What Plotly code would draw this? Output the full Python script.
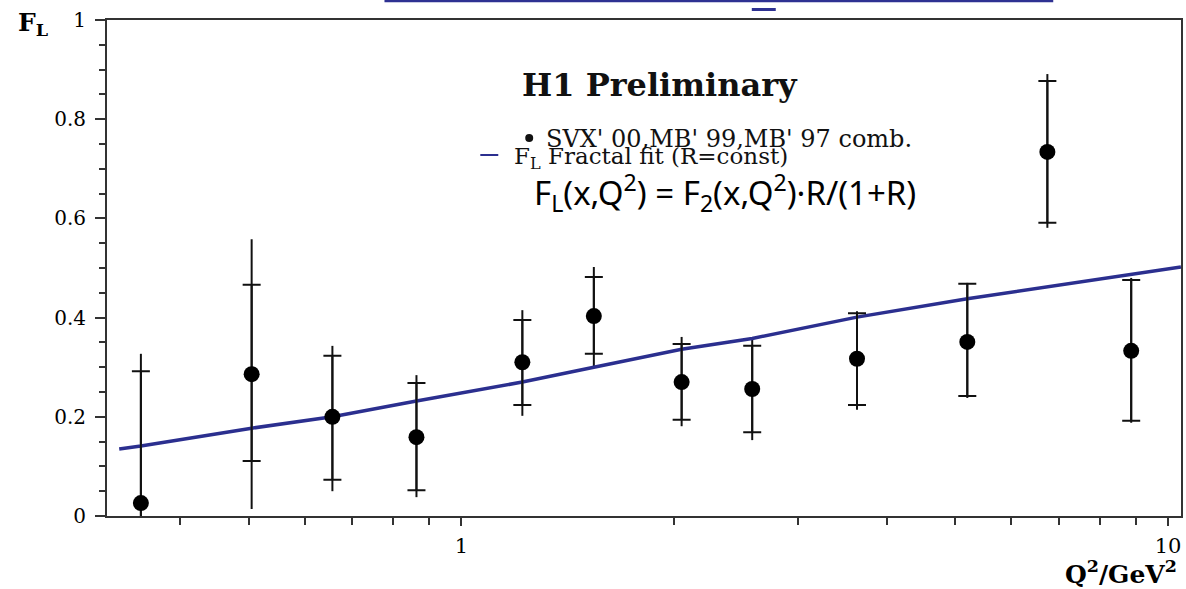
import plotly.graph_objects as go

# ---------------- data ----------------
q2 = [0.352, 0.505, 0.657, 0.864, 1.22, 1.54, 2.05, 2.58, 3.63, 5.20, 6.75, 8.87]
fl = [0.026, 0.286, 0.200, 0.159, 0.310, 0.403, 0.270, 0.256, 0.317, 0.351, 0.734, 0.333]
stat_hi = [0.292, 0.466, 0.323, 0.268, 0.395, 0.482, 0.347, 0.343, 0.409, 0.468, 0.877, 0.476]
stat_lo = [-0.030, 0.111, 0.073, 0.052, 0.224, 0.327, 0.194, 0.169, 0.224, 0.242, 0.591, 0.192]
tot_hi = [0.327, 0.558, 0.343, 0.284, 0.415, 0.502, 0.361, 0.359, 0.413, 0.470, 0.891, 0.480]
tot_lo = [-0.030, 0.014, 0.050, 0.038, 0.202, 0.300, 0.181, 0.153, 0.214, 0.238, 0.581, 0.188]

fit_q2 = [0.328, 0.352, 0.505, 0.657, 0.864, 1.06, 1.22, 1.54, 2.05, 2.58, 3.63, 5.20, 8.87, 10.43]
fit_fl = [0.135, 0.141, 0.177, 0.200, 0.232, 0.254, 0.270, 0.300, 0.336, 0.358, 0.401, 0.438, 0.488, 0.502]

y_ticks = [0, 0.2, 0.4, 0.6, 0.8, 1]
y_ticktext = ["0", "0.2", "0.4", "0.6", "0.8", "1"]
x_ticks = [1, 10]
x_ticktext = ["1", "10"]
x_minor = [0.4, 0.5, 0.6, 0.7, 0.8, 0.9, 2, 3, 4, 5, 6, 7, 8, 9]

# ---------------- layout geometry ----------------
W, H = 1186, 589
L, R, T, B = 107, 1183, 20, 516


def px(x):
    return (x - L) / (R - L)


def py(y):
    return (B - y) / (B - T)


NAVY = "#2b2f8f"
SERIF = "DejaVu Serif"
INK = "#111111"

fig = go.Figure()

# total uncertainty (no caps)
fig.add_trace(go.Scatter(
    x=q2, y=fl, mode="markers",
    marker=dict(size=2, color="rgba(0,0,0,0)"),
    error_y=dict(type="data", symmetric=False,
                 array=[h - v for h, v in zip(tot_hi, fl)],
                 arrayminus=[v - l for l, v in zip(tot_lo, fl)],
                 color=INK, thickness=2, width=0),
    showlegend=False, hoverinfo="skip"))

# fit line
fig.add_trace(go.Scatter(
    x=fit_q2, y=fit_fl, mode="lines",
    line=dict(color=NAVY, width=3.5),
    name="F_L Fractal fit (R=const)", showlegend=False))

# statistical uncertainty (with caps) + points
fig.add_trace(go.Scatter(
    x=q2, y=fl, mode="markers",
    marker=dict(size=16, color="black"),
    error_y=dict(type="data", symmetric=False,
                 array=[h - v for h, v in zip(stat_hi, fl)],
                 arrayminus=[v - l for l, v in zip(stat_lo, fl)],
                 color=INK, thickness=2, width=9),
    name="SVX' 00,MB' 99,MB' 97 comb.", showlegend=False))

ann = []
# axis titles
ann.append(dict(x=px(16), y=py(24), xref="paper", yref="paper",
                xanchor="left", yanchor="middle", showarrow=False,
                text="<b>F</b><sub><b>L</b></sub>",
                font=dict(family=SERIF, size=25, color="black")))
ann.append(dict(x=px(1181), y=py(572), xref="paper", yref="paper",
                xanchor="right", yanchor="middle", showarrow=False,
                text="<b>Q<sup>2</sup>/GeV<sup>2</sup></b>",
                font=dict(family=SERIF, size=25, color="black")))
# legend block
ann.append(dict(x=px(661), y=py(85), xref="paper", yref="paper",
                xanchor="center", yanchor="middle", showarrow=False,
                text="<b>H1 Preliminary</b>",
                font=dict(family=SERIF, size=32, color=INK)))
ann.append(dict(x=px(545), y=py(139), xref="paper", yref="paper",
                xanchor="left", yanchor="middle", showarrow=False,
                text="SVX' 00,MB' 99,MB' 97 comb.",
                font=dict(family=SERIF, size=24, color=INK)))
ann.append(dict(x=px(513), y=py(158), xref="paper", yref="paper",
                xanchor="left", yanchor="middle", showarrow=False,
                text="F<sub>L</sub> Fractal fit (R=const)",
                font=dict(family=SERIF, size=23, color=INK)))
ann.append(dict(x=px(533), y=py(192), xref="paper", yref="paper",
                xanchor="left", yanchor="middle", showarrow=False,
                text="F<sub>L</sub>(x,Q<sup>2</sup>) = F<sub>2</sub>(x,Q<sup>2</sup>)·R/(1+R)",
                font=dict(family="Noto Sans", size=33, color="black")))

shapes = []
# legend bullet and line sample
shapes.append(dict(type="circle", xref="paper", yref="paper",
                   x0=px(526), x1=px(534), y0=py(142), y1=py(134),
                   fillcolor=INK, line=dict(width=0)))
shapes.append(dict(type="line", xref="paper", yref="paper",
                   x0=px(481), x1=px(499), y0=py(155), y1=py(155),
                   line=dict(color=NAVY, width=2)))
# cut-off hyperlink fragment at the very top
shapes.append(dict(type="line", xref="paper", yref="paper",
                   x0=px(385), x1=px(1055), y0=py(1), y1=py(1),
                   line=dict(color="#2e3192", width=2.5)))
shapes.append(dict(type="rect", xref="paper", yref="paper",
                   x0=px(753), x1=px(777), y0=py(11), y1=py(8),
                   fillcolor="#2e3192", line=dict(width=0)))

fig.update_layout(
    width=W, height=H,
    margin=dict(l=L, r=W - R, t=T, b=H - B, pad=0),
    paper_bgcolor="white", plot_bgcolor="white",
    annotations=ann, shapes=shapes,
    showlegend=False,
)

fig.update_xaxes(
    type="log", range=[-0.5014, 1.0184],
    tickmode="array", tickvals=x_ticks, ticktext=x_ticktext,
    ticks="outside", ticklen=8, tickwidth=1.5, tickcolor="#333333",
    minor=dict(tickmode="array", tickvals=x_minor, ticks="outside",
               ticklen=7, tickwidth=1.5, tickcolor="#333333", showgrid=False),
    showgrid=False, zeroline=False,
    showline=True, linecolor="#333333", linewidth=2, mirror=True,
    tickfont=dict(family=SERIF, size=21, color="black"),
    ticklabelstandoff=2, ticklabeloverflow="allow",
)
fig.update_yaxes(
    range=[0, 1],
    tickmode="array", tickvals=y_ticks, ticktext=y_ticktext,
    ticks="outside", ticklen=10, tickwidth=1.5, tickcolor="#333333",
    minor=dict(dtick=0.05, tick0=0, ticks="outside", ticklen=6,
               tickwidth=1.5, tickcolor="#333333", showgrid=False),
    showgrid=False, zeroline=False,
    showline=True, linecolor="#333333", linewidth=2, mirror=True,
    tickfont=dict(family=SERIF, size=20, color="black"),
    ticklabelstandoff=5, ticklabeloverflow="allow",
)

fig.write_html("out.html", config={"displayModeBar": False},
               post_script="document.body.style.margin='0';document.body.style.overflow='hidden';")
